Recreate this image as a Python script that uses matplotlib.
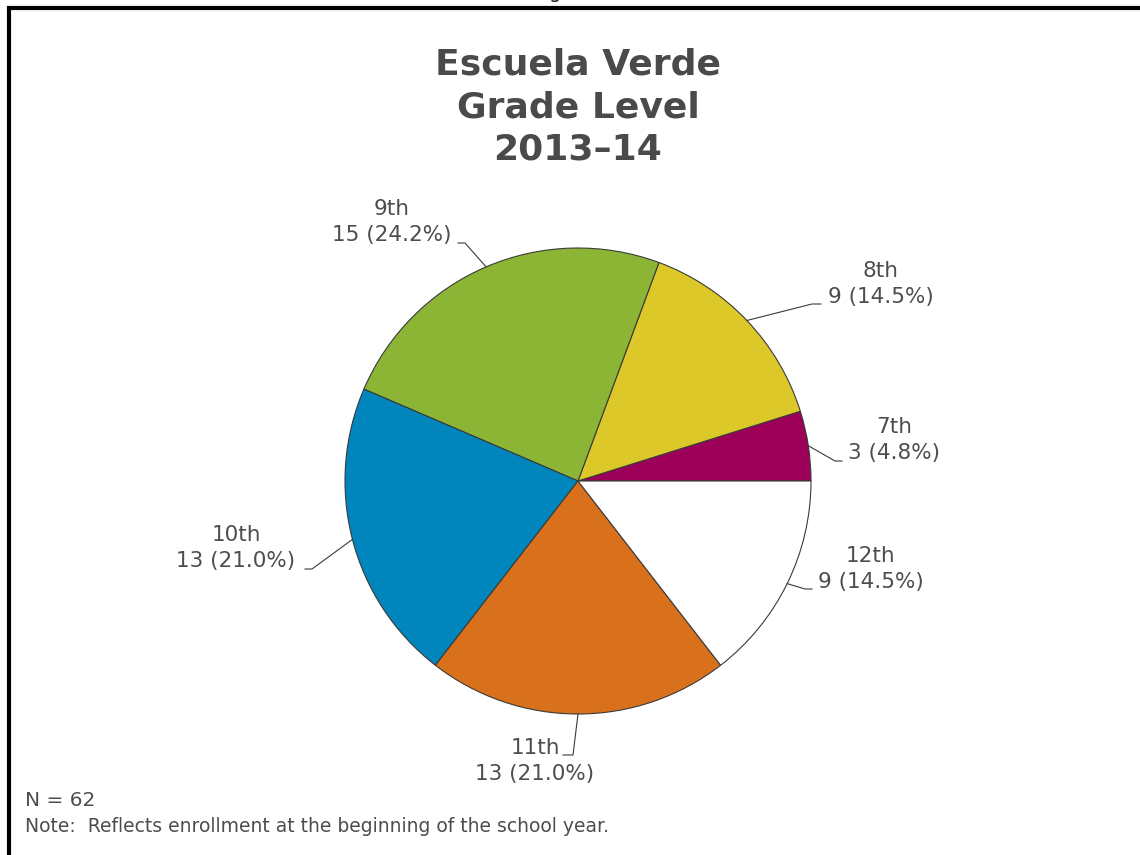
import matplotlib.pyplot as plt
from matplotlib.lines import Line2D
import numpy as np

grades = ["7th", "8th", "9th", "10th", "11th", "12th"]
counts = [3, 9, 15, 13, 13, 9]
colors = ["#9c0058", "#dcc829", "#8cb535", "#0085bc", "#d9711c", "#ffffff"]

W, H = 1140, 855
R = 233.0          # pie radius in px
CX, CY = 578, 481  # pie centre in px (from top)

# label layout in px: (text centre x, text centre y, elbow x, elbow y, end x)
layout = {
    "7th":  (894, 440, 835, 461, 842),
    "8th":  (881, 284, 812, 304, 821),
    "9th":  (392, 222, 465, 243, 458),
    "10th": (236, 548, 312, 569, 305),
    "11th": (535, 761, 573, 755, 563),
    "12th": (871, 569, 805, 589, 812),
}

def px(x, y):
    return (x - CX) / R, (CY - y) / R

fig = plt.figure(figsize=(W / 100, H / 100), dpi=100)
ax = fig.add_axes([0, 0, 1, 1])

wedges, _ = ax.pie(counts, colors=colors, startangle=0, counterclock=True,
                   radius=1, center=(0, 0), frame=True,
                   wedgeprops=dict(edgecolor="#3a3a3a", linewidth=0.8))
ax.set_xlim(-CX / R, (W - CX) / R)
ax.set_ylim(-(H - CY) / R, CY / R)
ax.axis("off")

total = sum(counts)
txt_col = "#4d4d4d"
for w, g, c in zip(wedges, grades, counts):
    mid = np.deg2rad((w.theta1 + w.theta2) / 2)
    sx, sy = np.cos(mid), np.sin(mid)
    tx, ty, ex, ey, hx = layout[g]
    exd, eyd = px(ex, ey)
    hxd, _ = px(hx, ey)
    ax.plot([sx, exd, hxd], [sy, eyd, eyd], color="#3a3a3a", lw=0.8)
    txd, tyd = px(tx, ty)
    ax.text(txd, tyd, f"{g}\n{c} ({100 * c / total:.1f}%)", ha="center",
            va="center", fontsize=15.5, color=txt_col, linespacing=1.4)

fig.text(CX / W, 1 - 107 / H, "Escuela Verde\nGrade Level\n2013\u201314",
         ha="center", va="center", fontsize=26, fontweight="bold",
         color="#4a4a4a", linespacing=1.33)

fig.text(25 / W, 1 - 800 / H, f"N = {total}", ha="left", va="center",
         fontsize=14.5, color=txt_col)
fig.text(25 / W, 1 - 826 / H,
         "Note:  Reflects enrollment at the beginning of the school year.",
         ha="left", va="center", fontsize=13.5, color=txt_col)

# cut-off text at the very top
fig.text(555 / W, 1 + 2 / H, "g", ha="center", va="baseline", fontsize=14,
         color="#222222")

# frame lines
fig.add_artist(Line2D([7 / W, 1], [1 - 8 / H, 1 - 8 / H], color="black",
                      lw=3, solid_capstyle="butt"))
fig.add_artist(Line2D([9 / W, 9 / W], [1 - 6 / H, 0], color="black",
                      lw=3, solid_capstyle="butt"))

fig.savefig("out.png", dpi=100)
